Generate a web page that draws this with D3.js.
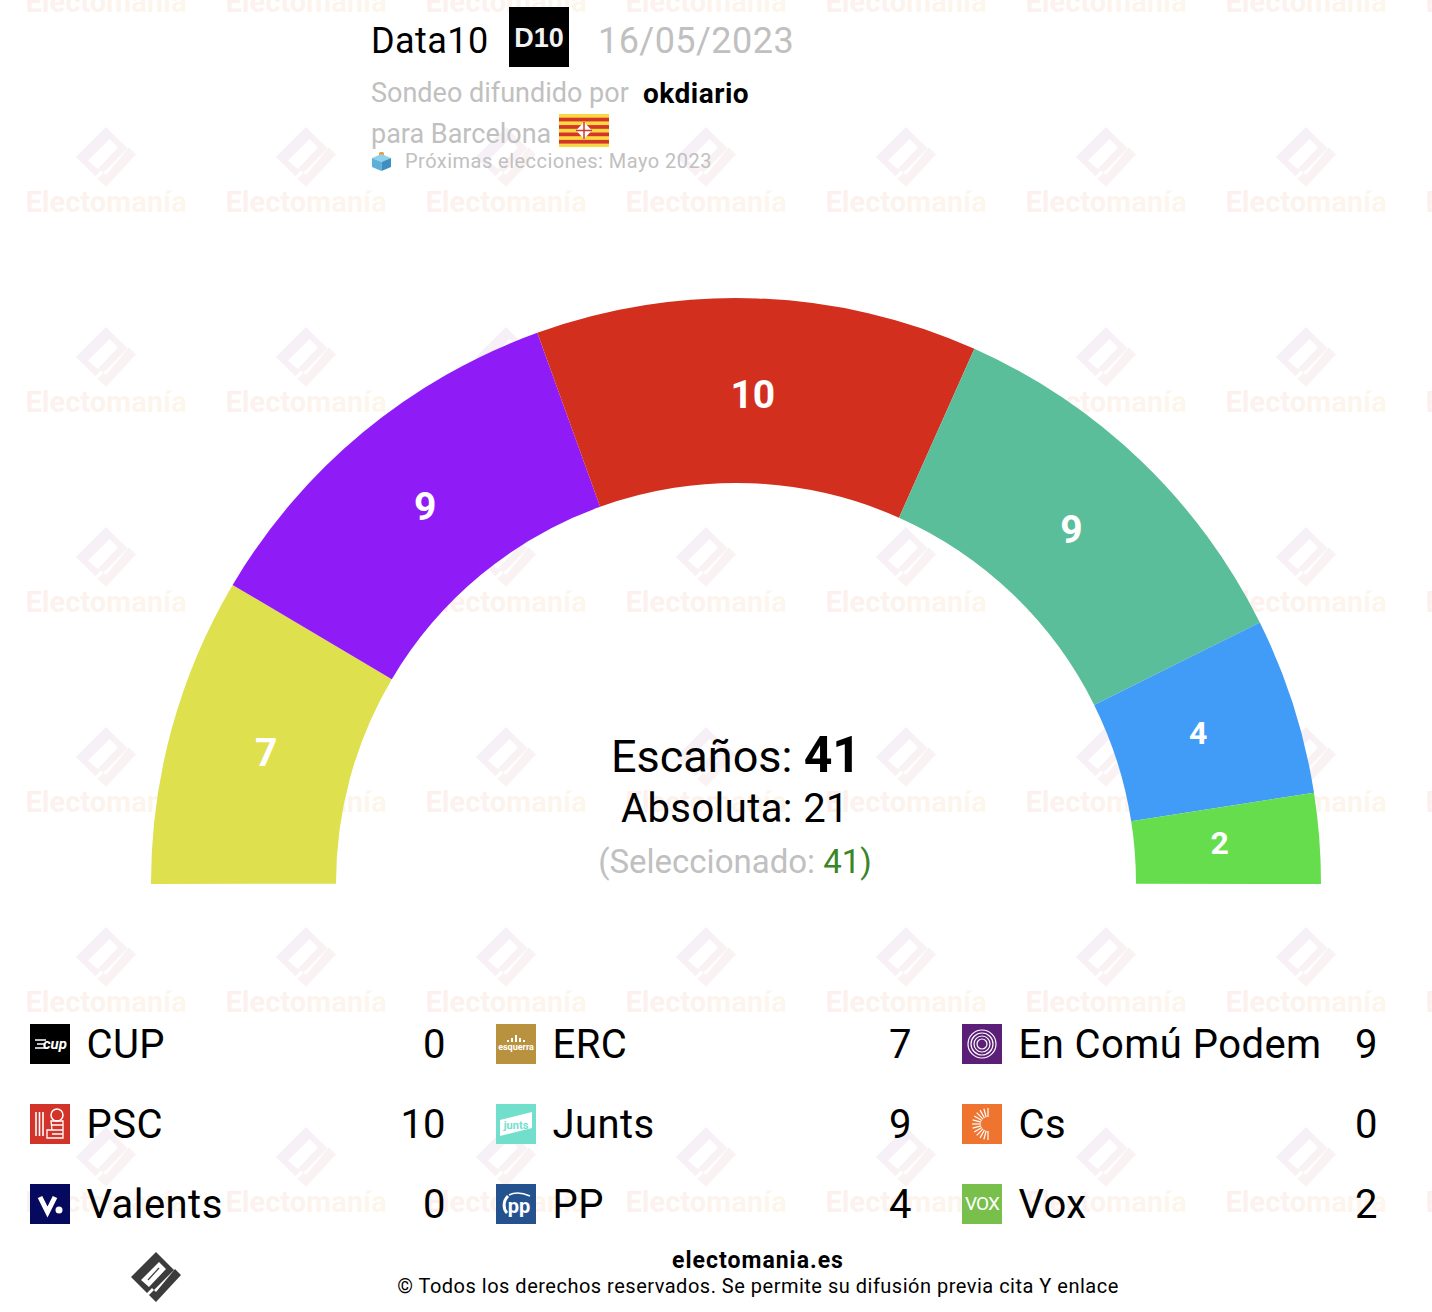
<!DOCTYPE html>
<html>
<head>
<meta charset="utf-8">
<script src="https://cdn.jsdelivr.net/npm/d3@7"></script>
<style>
  html, body { margin: 0; padding: 0; background: #fff; }
  text { font-family: Roboto, sans-serif; }
</style>
</head>
<body>
<div id="chart"></div>
<script>
// hemicycle, left to right
const arcSeats = [7, 9, 10, 9, 4, 2];
const arcColors = ["#dee04e", "#8f1cf7", "#d32f1f", "#5bbe9a", "#419cf7", "#66dd4c"];

// legend, column by column
const parties = ["CUP", "PSC", "Valents", "ERC", "Junts", "PP", "En Comú Podem", "Cs", "Vox"];
const partySeats = [0, 10, 0, 7, 9, 4, 9, 0, 2];
const partyColors = ["#000000", "#d2342a", "#050a5e", "#b9923f", "#72dfcd", "#24528f", "#5c1f78", "#ee7430", "#78bf4c"];

const svgWidth = 1432;
const svgHeight = 1312;
const grey = "#c0c0c0";

const svg = d3.select("#chart").append("svg")
    .attr("width", svgWidth)
    .attr("height", svgHeight)
    .style("display", "block");

const defs = svg.append("defs");

// logo outline, centred on 0,0 and 50px wide
const logoBody = "M0,-25L-25,0L-7,18L18,-7ZM3,-15L10,-8L-7,10L-15,3Z";
const logoTick = "M25,-2L0,25L-9,16L-4,11L0,15L19,-8Z";

const logoGrad = defs.append("linearGradient").attr("id", "logoGrad")
    .attr("x1", 0).attr("y1", 0).attr("x2", 1).attr("y2", 1);
logoGrad.append("stop").attr("offset", "0%").attr("stop-color", "#f3eefa");
logoGrad.append("stop").attr("offset", "100%").attr("stop-color", "#fdf4ef");

const textGrad = defs.append("linearGradient").attr("id", "textGrad");
textGrad.append("stop").attr("offset", "0%").attr("stop-color", "#fcf0ee");
textGrad.append("stop").attr("offset", "100%").attr("stop-color", "#fdf6ec");

// repeated watermark, behind everything
const tile = defs.append("pattern").attr("id", "watermark")
    .attr("patternUnits", "userSpaceOnUse")
    .attr("x", 6).attr("y", -85)
    .attr("width", 200).attr("height", 200);
tile.append("g").attr("transform", "translate(100,42) scale(1.2)")
    .append("path").attr("d", logoBody + logoTick).attr("fill", "url(#logoGrad)").attr("fill-rule", "evenodd");
tile.append("text")
    .attr("x", 100).attr("y", 97)
    .attr("text-anchor", "middle")
    .attr("font-size", 29)
    .attr("font-weight", 700)
    .attr("fill", "url(#textGrad)")
    .text("Electomanía");

svg.append("rect")
    .attr("width", svgWidth).attr("height", svgHeight)
    .attr("fill", "url(#watermark)");

// header
svg.append("text").attr("x", 371).attr("y", 53).attr("font-size", 36)
    .attr("letter-spacing", 0.45).text("Data10");
svg.append("rect").attr("x", 509).attr("y", 7).attr("width", 60).attr("height", 60).attr("fill", "#000");
svg.append("text").attr("x", 539).attr("y", 47).attr("text-anchor", "middle")
    .attr("font-size", 27).attr("font-weight", 700).attr("fill", "#f2f2f2")
    .style("font-family", "'Liberation Sans', sans-serif").text("D10");
svg.append("text").attr("x", 598).attr("y", 53).attr("font-size", 36)
    .attr("letter-spacing", 0.45).attr("fill", grey).text("16/05/2023");
svg.append("text").attr("x", 371).attr("y", 102).attr("font-size", 27)
    .attr("fill", grey).text("Sondeo difundido por");
svg.append("text").attr("x", 643).attr("y", 103).attr("font-size", 28)
    .attr("letter-spacing", 0.5).attr("font-weight", 700).text("okdiario");
svg.append("text").attr("x", 371).attr("y", 143).attr("font-size", 27)
    .attr("fill", grey).text("para Barcelona");
svg.append("text").attr("x", 405).attr("y", 168).attr("font-size", 20)
    .attr("letter-spacing", 0.47).attr("fill", grey).text("Próximas elecciones: Mayo 2023");

// Barcelona flag
const flag = svg.append("g").attr("transform", "translate(559,114)");
flag.append("rect").attr("width", 50).attr("height", 33).attr("fill", "#f8d940");
d3.range(4).forEach(i => {
    flag.append("rect").attr("y", 3.7 + i * 7.4).attr("width", 50).attr("height", 3.7).attr("fill", "#d5342a");
});
flag.append("path").attr("d", "M25,8L33,16.5L25,25L17,16.5Z").attr("fill", "#fff");
flag.append("path").attr("d", "M25,8V25M17,16.5H33").attr("stroke", "#d5342a").attr("stroke-width", 1.5);

// ballot box
const box = svg.append("g").attr("transform", "translate(372,150)");
box.append("rect").attr("x", 7).attr("y", 2).attr("width", 5).attr("height", 7).attr("rx", 1.5).attr("fill", "#ee9a3a");
box.append("path").attr("d", "M0,8L9.5,4L19,8L9.5,12Z").attr("fill", "#8fd0ea");
box.append("path").attr("d", "M0,8L9.5,12V21L0,17Z").attr("fill", "#5fb0d8");
box.append("path").attr("d", "M19,8L9.5,12V21L19,17Z").attr("fill", "#3d8fc0");

// hemicycle
const cx = 736, cy = 883;
const tilt = 0.1 * Math.PI / 180; // reference sits a hair counter-clockwise
const pie = d3.pie().sort(null).startAngle(-Math.PI / 2 - tilt).endAngle(Math.PI / 2 - tilt);
const arc = d3.arc().innerRadius(400).outerRadius(585);
const labelArc = d3.arc().innerRadius(486).outerRadius(486);
const slices = pie(arcSeats);
slices[slices.length - 1].endAngle = Math.PI / 2 + tilt;

const hemi = svg.append("g").attr("transform", `translate(${cx},${cy})`);
hemi.selectAll("path").data(slices).join("path")
    .attr("d", arc)
    .attr("fill", (d, i) => arcColors[i]);
hemi.selectAll("text").data(slices).join("text")
    .attr("x", d => labelArc.centroid(d)[0] - 1)
    .attr("y", d => labelArc.centroid(d)[1] - 3)
    .attr("dy", "0.36em")
    .attr("text-anchor", "middle")
    .attr("font-weight", 700)
    .attr("font-size", d => d.data < 5 ? 32 : 39)
    .attr("fill", "#fff")
    .text(d => d.data);

// centre text
const seatsLine = svg.append("text").attr("x", cx).attr("y", 772)
    .attr("text-anchor", "middle").attr("font-size", 45);
seatsLine.append("tspan").text("Escaños: ");
seatsLine.append("tspan").attr("font-weight", 700).attr("font-size", 50).text(d3.sum(arcSeats));
svg.append("text").attr("x", cx - 1).attr("y", 822).attr("text-anchor", "middle")
    .attr("font-size", 40).attr("letter-spacing", 0.4).text("Absoluta: 21");
const selLine = svg.append("text").attr("x", cx - 1).attr("y", 873).attr("text-anchor", "middle")
    .attr("font-size", 33).attr("fill", grey);
selLine.append("tspan").text("(Seleccionado: ");
selLine.append("tspan").attr("fill", "#3a8527").text(d3.sum(arcSeats) + ")");

// legend
const colX = d3.scaleLinear().domain([0, 2]).range([30, 962]);
const rowY = d3.scaleLinear().domain([0, 2]).range([1024, 1184]);

const legend = svg.append("g").selectAll("g").data(parties).join("g")
    .attr("transform", (d, i) => `translate(${colX(Math.floor(i / 3))},${rowY(i % 3)})`);
legend.append("rect").attr("width", 40).attr("height", 40).attr("fill", (d, i) => partyColors[i]);
legend.append("text").attr("x", 56.5).attr("y", 34).attr("font-size", 40)
    .attr("letter-spacing", 0.45).text(d => d);
legend.append("text").attr("x", 415.5).attr("y", 34).attr("font-size", 40)
    .attr("text-anchor", "end").text((d, i) => partySeats[i]);

// party logos, small approximations
const icon = name => legend.filter(d => d === name).append("g");
const iconText = (g, txt, x, y, size, fill, style) => g.append("text")
    .attr("x", x).attr("y", y).attr("text-anchor", "middle")
    .attr("font-size", size).attr("font-weight", 700).attr("fill", fill)
    .attr("font-style", style || "normal").text(txt);

const cup = icon("CUP");
iconText(cup, "cup", 25, 25, 15, "#fff", "italic");
cup.append("path").attr("d", "M5,16H16M7,20H14M5,24H16").attr("stroke", "#fff").attr("stroke-width", 1.5);

const psc = icon("PSC");
psc.append("path").attr("d", "M6,8V32M9.5,8V32M13,8V32").attr("stroke", "#fff").attr("stroke-width", 1.6);
psc.append("circle").attr("cx", 27).attr("cy", 11).attr("r", 6).attr("fill", "none").attr("stroke", "#fff").attr("stroke-width", 1.5);
psc.append("path").attr("d", "M21,17H33V34H17V26H22ZM22,21H33M22,26H33M22,30H33")
    .attr("fill", "none").attr("stroke", "#fff").attr("stroke-width", 1.3);

const valents = icon("Valents");
valents.append("path").attr("d", "M10,13L17.5,28L25,13").attr("fill", "none").attr("stroke", "#fff").attr("stroke-width", 5);
valents.append("circle").attr("cx", 29).attr("cy", 26).attr("r", 3.5).attr("fill", "#fff");

const erc = icon("ERC");
iconText(erc, "esquerra", 20, 26, 9, "#fff");
erc.append("path").attr("d", "M12,18V16M16,18V14M20,18V11M24,18V14M28,18V16").attr("stroke", "#fff").attr("stroke-width", 2);

const junts = icon("Junts");
junts.append("path").attr("d", "M4,16L36,8V24L4,32Z").attr("fill", "#fff");
iconText(junts, "junts", 20, 25, 11, "#72dfcd");

const pp = icon("PP");
iconText(pp, "pp", 23, 29, 20, "#fff");
pp.append("path").attr("d", "M12,12C7,17 7,25 11,29").attr("fill", "none").attr("stroke", "#fff").attr("stroke-width", 3);
pp.append("path").attr("d", "M13,11C19,8 27,9 34,12").attr("fill", "none").attr("stroke", "#fff").attr("stroke-width", 1.5);

const ecp = icon("En Comú Podem");
[14, 11, 8, 5].forEach(r => {
    ecp.append("circle").attr("cx", 20).attr("cy", 20).attr("r", r)
        .attr("fill", "none").attr("stroke", "#fff").attr("stroke-width", 1.2);
});

const cs = icon("Cs");
d3.range(13).forEach(i => {
    const a = Math.PI / 2 + i * Math.PI / 12;
    cs.append("line")
        .attr("x1", 26 + 7 * Math.cos(a)).attr("y1", 20 + 7 * Math.sin(a))
        .attr("x2", 26 + 16 * Math.cos(a)).attr("y2", 20 + 16 * Math.sin(a))
        .attr("stroke", "#fff").attr("stroke-width", 1.2);
});

icon("Vox").append("text").attr("x", 20).attr("y", 26).attr("text-anchor", "middle")
    .attr("font-size", 19).attr("letter-spacing", -1).attr("fill", "#fff").text("VOX");

// footer
const footLogo = svg.append("g").attr("transform", "translate(156,1277)");
footLogo.append("path").attr("d", logoBody + logoTick).attr("fill", "#3c3c3c").attr("fill-rule", "evenodd");
footLogo.append("path").attr("d", "M3,-9L-8,3").attr("stroke", "#3c3c3c").attr("stroke-width", 1.2);

svg.append("text").attr("x", 758).attr("y", 1268).attr("text-anchor", "middle")
    .attr("font-size", 23).attr("letter-spacing", 1).attr("font-weight", 700).text("electomania.es");
svg.append("text").attr("x", 758).attr("y", 1293).attr("text-anchor", "middle")
    .attr("font-size", 20).attr("letter-spacing", 0.5).text("© Todos los derechos reservados. Se permite su difusión previa cita Y enlace");
</script>
</body>
</html>
